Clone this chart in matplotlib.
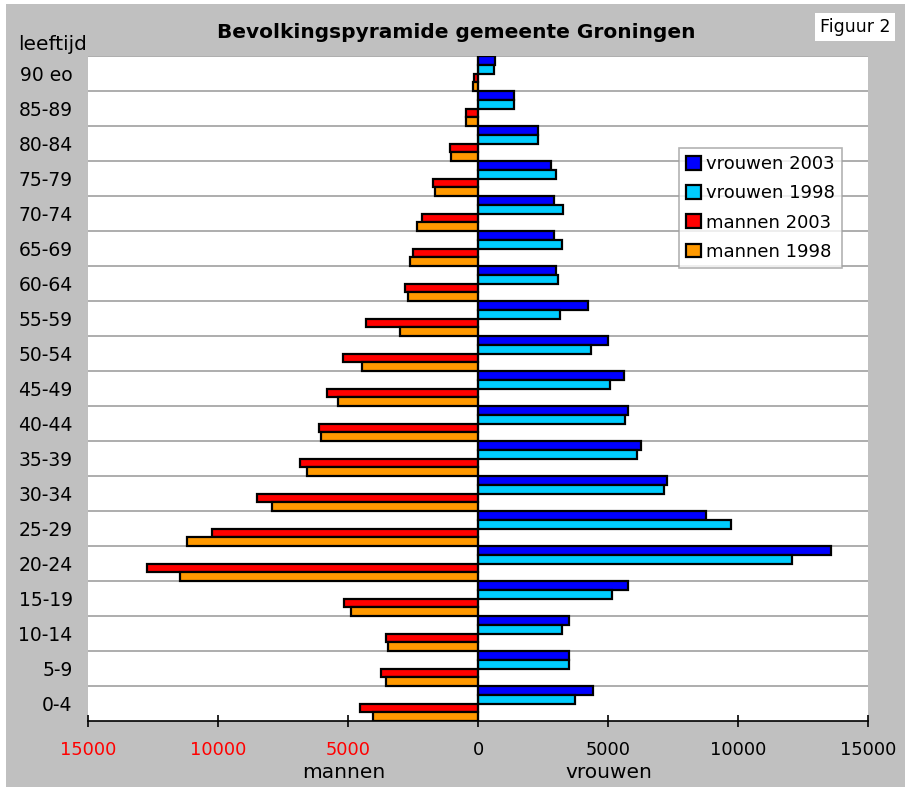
import matplotlib.pyplot as plt
import matplotlib.patches as mpatches
import numpy as np

# age groups, bottom to top
age_groups = ['0-4', '5-9', '10-14', '15-19', '20-24', '25-29', '30-34', '35-39',
              '40-44', '45-49', '50-54', '55-59', '60-64', '65-69', '70-74',
              '75-79', '80-84', '85-89', '90 eo']

vrouwen_2003 = [4420, 3500, 3490, 5760, 13590, 8770, 7270, 6270, 5760, 5600,
                4990, 4230, 3010, 2910, 2935, 2810, 2300, 1370, 665]
vrouwen_1998 = [3730, 3490, 3220, 5140, 12090, 9740, 7140, 6130, 5640, 5090,
                4360, 3165, 3075, 3220, 3255, 2990, 2300, 1370, 600]
mannen_2003 = [4540, 3745, 3525, 5150, 12730, 10230, 8490, 6845, 6105, 5795,
               5180, 4295, 2820, 2490, 2165, 1720, 1090, 475, 155]
mannen_1998 = [4040, 3550, 3450, 4870, 11460, 11200, 7935, 6565, 6040, 5375,
               4475, 3010, 2705, 2605, 2335, 1655, 1040, 450, 180]

x_ticks = [-15000, -10000, -5000, 0, 5000, 10000, 15000]
x_labels = ['15000', '10000', '5000', '0', '5000', '10000', '15000']

BLUE = '#0000ff'
CYAN = '#00ccff'
RED = '#ff0000'
ORANGE = '#ff9900'
GREY_BG = '#c0c0c0'

fig = plt.figure(figsize=(9.09, 7.94), dpi=100, facecolor='white')

# grey chart area with a thin white margin
fig.patches.append(mpatches.Rectangle((6 / 909, 1 - 787 / 794), 899 / 909, 783 / 794,
                                      transform=fig.transFigure, facecolor=GREY_BG,
                                      edgecolor='none', zorder=-10))

ax = fig.add_axes([88 / 909, 1 - 721 / 794, 780 / 909, 665 / 794])
ax.set_facecolor('white')

y = np.arange(len(age_groups))
h = 0.25
bar_kw = dict(height=h, edgecolor='black', linewidth=1.6, zorder=3)
ax.barh(y + 0.375, vrouwen_2003, color=BLUE, label='vrouwen 2003', **bar_kw)
ax.barh(y + 0.125, vrouwen_1998, color=CYAN, label='vrouwen 1998', **bar_kw)
ax.barh(y - 0.125, -np.array(mannen_2003), color=RED, label='mannen 2003', **bar_kw)
ax.barh(y - 0.375, -np.array(mannen_1998), color=ORANGE, label='mannen 1998', **bar_kw)

# horizontal gridlines between age groups
for k in range(len(age_groups)):
    ax.axhline(k + 0.5, color='#a0a0a0', linewidth=1.2, zorder=1)
ax.axvline(0, color='black', linewidth=1.5, zorder=4)

ax.set_xlim(-15000, 15000)
ax.set_ylim(-0.5, len(age_groups) - 0.5)

for side in ['top', 'right', 'left']:
    ax.spines[side].set_visible(False)
ax.spines['bottom'].set_linewidth(1.2)

ax.set_xticks(x_ticks)
ax.set_xticklabels(x_labels, fontsize=12.8)
for lbl, v in zip(ax.get_xticklabels(), x_ticks):
    if v < 0:
        lbl.set_color('red')
ax.tick_params(axis='x', direction='inout', length=9, width=1.2, pad=10)

ax.set_yticks(y)
ax.set_yticklabels(age_groups, fontsize=13.5)
ax.tick_params(axis='y', length=0, pad=11)

fig.text(456 / 909, 1 - 33 / 794, 'Bevolkingspyramide gemeente Groningen',
         ha='center', va='center', fontsize=14.5, fontweight='bold')
fig.text(18 / 909, 1 - 45 / 794, 'leeftijd', ha='left', va='center', fontsize=14.5)
fig.text(344 / 909, 1 - 772 / 794, 'mannen', ha='center', va='center', fontsize=14.5)
fig.text(609 / 909, 1 - 772 / 794, 'vrouwen', ha='center', va='center', fontsize=14.5)
fig.text(855 / 909, 1 - 27 / 794, 'Figuur 2', ha='center', va='center', fontsize=12.5,
         bbox=dict(facecolor='white', edgecolor='none', boxstyle='square,pad=0.3'))

leg = ax.legend(loc='upper left', bbox_to_anchor=(679 / 909, 1 - 148 / 794),
                bbox_transform=fig.transFigure, fontsize=13, frameon=True,
                fancybox=False, handlelength=0.8, handleheight=0.8,
                handletextpad=0.3, labelspacing=0.62, borderpad=0.4,
                borderaxespad=0)
leg.get_frame().set_edgecolor('#a0a0a0')
leg.get_frame().set_linewidth(1.2)
leg.set_zorder(5)

plt.savefig('out.png', dpi=100, facecolor=fig.get_facecolor())
